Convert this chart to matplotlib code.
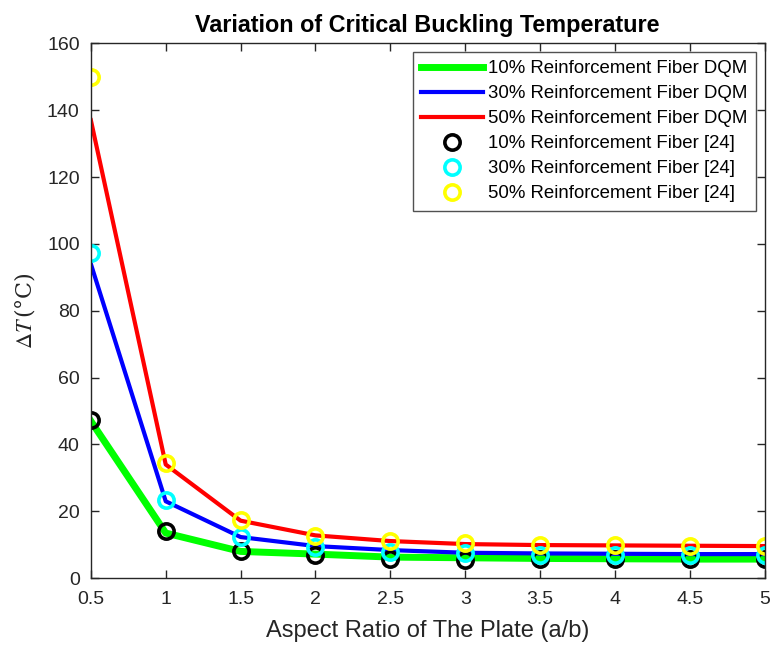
import numpy as np
import matplotlib
matplotlib.use("Agg")
import matplotlib.pyplot as plt

plt.rcParams['font.family'] = ['Liberation Sans', 'DejaVu Sans']
plt.rcParams['mathtext.fontset'] = 'stix'

# aspect ratio a/b
aspect = [0.5, 1, 1.5, 2, 2.5, 3, 3.5, 4, 4.5, 5]

# DQM results (lines)
dqm_10 = [47, 13.5, 8.0, 7.2, 6.3, 6.1, 5.9, 5.8, 5.7, 5.7]
dqm_30 = [94, 23, 12.3, 9.6, 8.4, 7.6, 7.4, 7.3, 7.2, 7.2]
dqm_50 = [137, 34, 17.2, 12.8, 11.1, 10.2, 9.9, 9.8, 9.7, 9.6]

# reference [24] (circles)
ref_10 = [47.3, 14.0, 8.1, 6.9, 5.7, 5.5, 5.6, 5.6, 5.6, 5.6]
ref_30 = [97.4, 23.5, 12.3, 9.3, 7.8, 7.4, 6.9, 6.9, 6.8, 6.8]
ref_50 = [149.8, 34.6, 17.4, 12.6, 11.1, 10.4, 9.9, 9.8, 9.7, 9.6]

labels_dqm = ['10% Reinforcement Fiber DQM', '30% Reinforcement Fiber DQM', '50% Reinforcement Fiber DQM']
labels_ref = ['10% Reinforcement Fiber [24]', '30% Reinforcement Fiber [24]', '50% Reinforcement Fiber [24]']

fig = plt.figure(figsize=(7.7, 6.46), dpi=100)
ax = fig.add_axes([0.118, 0.105, 0.875, 0.828])

ax.plot(aspect, dqm_10, color='#00ff00', lw=5, label=labels_dqm[0])
ax.plot(aspect, dqm_30, color='#0000ff', lw=3, label=labels_dqm[1])
ax.plot(aspect, dqm_50, color='#ff0000', lw=3, label=labels_dqm[2])
ax.plot(aspect, ref_10, 'o', mfc='none', mec='black', ms=11, mew=2.6, label=labels_ref[0])
ax.plot(aspect, ref_30, 'o', mfc='none', mec='#00ffff', ms=11, mew=2.6, label=labels_ref[1])
ax.plot(aspect, ref_50, 'o', mfc='none', mec='#ffff00', ms=11, mew=2.6, label=labels_ref[2])

ax.set_xlim(0.5, 5)
ax.set_ylim(0, 160)
ax.set_xticks([0.5, 1, 1.5, 2, 2.5, 3, 3.5, 4, 4.5, 5])
ax.set_xticklabels(['0.5', '1', '1.5', '2', '2.5', '3', '3.5', '4', '4.5', '5'])
ax.set_yticks(np.arange(0, 161, 20))
ax.tick_params(direction='in', top=True, right=True, labelsize=14, colors='#262626', length=6, width=1)
ax.tick_params(axis='x', pad=9)
ax.tick_params(axis='y', pad=8)
for s in ax.spines.values():
    s.set_color('#262626')
    s.set_linewidth(1)

ax.set_title('Variation of Critical Buckling Temperature', fontsize=16.8, fontweight='bold', pad=8)
ax.set_xlabel('Aspect Ratio of The Plate (a/b)', fontsize=17, color='#262626', labelpad=9)
ax.set_ylabel(r'$\Delta T\,$(°C)', fontsize=16, color='#262626', family='serif', labelpad=7.5)

leg = ax.legend(loc='upper right', fontsize=13.4, frameon=True, fancybox=False, edgecolor='#262626',
                handlelength=3.3, handletextpad=0.3, borderpad=0.45, borderaxespad=0.45,
                labelspacing=0.43)
leg.get_frame().set_linewidth(1)

fig.savefig('out.png', dpi=100)
